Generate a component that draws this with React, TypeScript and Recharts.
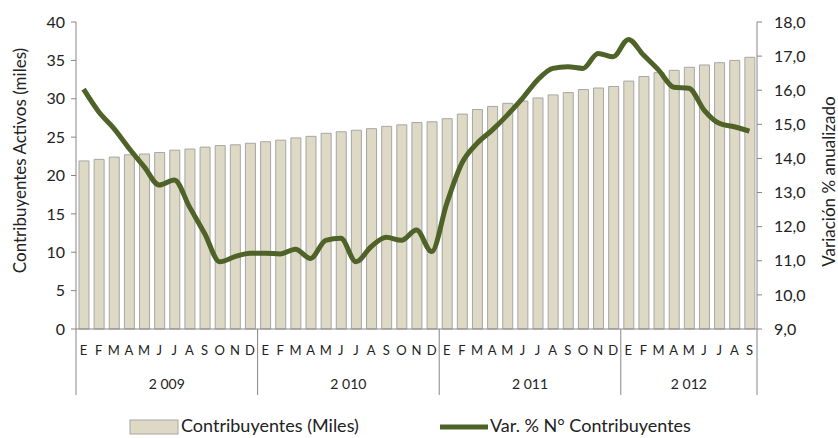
import { ComposedChart, Bar, Line, XAxis, YAxis, Legend } from 'recharts';

const years = ['2 009', '2 010', '2 011', '2 012'];
const monthsPerYear = [12, 12, 12, 9];
const monthLetters = ['E', 'F', 'M', 'A', 'M', 'J', 'J', 'A', 'S', 'O', 'N', 'D'];

// Contribuyentes activos (miles)
const contribuyentes = [
  21.9, 22.1, 22.4, 22.7, 22.8, 23.0, 23.3, 23.45, 23.7, 23.9, 24.0, 24.2,
  24.4, 24.6, 24.9, 25.1, 25.5, 25.7, 25.9, 26.1, 26.4, 26.6, 26.9, 27.0,
  27.4, 28.0, 28.6, 29.0, 29.4, 29.7, 30.1, 30.5, 30.8, 31.2, 31.4, 31.6,
  32.3, 32.9, 33.4, 33.7, 34.1, 34.4, 34.7, 35.0, 35.4,
];

// Var. % anualizada
const variacion = [
  16.03, 15.37, 14.88, 14.3, 13.76, 13.22, 13.37, 12.58, 11.8, 10.97, 11.12, 11.22,
  11.22, 11.2, 11.34, 11.07, 11.6, 11.66, 10.97, 11.41, 11.69, 11.6, 11.9, 11.27,
  12.68, 13.86, 14.44, 14.83, 15.27, 15.76, 16.3, 16.64, 16.69, 16.64, 17.08, 16.98,
  17.49, 17.03, 16.59, 16.09, 16.06, 15.42, 15.03, 14.93, 14.8,
];

const leftTicks = [0, 5, 10, 15, 20, 25, 30, 35, 40];
const rightTicks = [9, 10, 11, 12, 13, 14, 15, 16, 17, 18];

const data = contribuyentes.map((v, i) => ({
  key: `k${i}`,
  mes: monthLetters[i % 12],
  yearIdx: Math.floor(i / 12),
  contrib: v,
  var: variacion[i],
}));

const W = 838;
const H = 438;
const LEFT = 76;
const RIGHT_W = 81;
const TOP = 22;
const PLOT_BOTTOM = 329;
const BAND = (W - LEFT - RIGHT_W) / data.length;
const SEP_BOTTOM = 395;

const FONT = 'Lato, "Open Sans", sans-serif';
const AXIS = '#868686';
const BAR_FILL = '#DDD9C4';
const BAR_STROKE = '#A6A6A6';
const LINE = '#4F6228';

const YearTick = (props: any) => {
  const { x, payload } = props;
  const i = payload.index;
  const d = data[i];
  const m = i % 12;
  const parts: any[] = [];
  if (m === 0) {
    const left = x - BAND / 2;
    const count = monthsPerYear[d.yearIdx];
    parts.push(
      <line key="l" x1={left} x2={left} y1={PLOT_BOTTOM} y2={SEP_BOTTOM} stroke={AXIS} />
    );
    parts.push(
      <text key="t" x={left + (count * BAND) / 2} y={389} textAnchor="middle" fontSize={14} fill="#222" fontFamily={FONT}>
        {years[d.yearIdx]}
      </text>
    );
  }
  if (i === data.length - 1) {
    const right = x + BAND / 2;
    parts.push(
      <line key="r" x1={right} x2={right} y1={PLOT_BOTTOM} y2={SEP_BOTTOM} stroke={AXIS} />
    );
  }
  return <g>{parts}</g>;
};

const LegendContent = () => (
  <svg width={W} height={39} style={{ display: 'block', overflow: 'visible' }}>
    <rect x={130} y={21} width={48} height={14} fill={BAR_FILL} stroke={BAR_STROKE} />
    <text x={181} y={33} fontSize={18} fill="#222" fontFamily={FONT}>
      Contribuyentes (Miles)
    </text>
    <line x1={440} x2={488} y1={28} y2={28} stroke={LINE} strokeWidth={5} />
    <text x={490} y={33} fontSize={18} fill="#222" fontFamily={FONT}>
      Var. % N° Contribuyentes
    </text>
  </svg>
);

export default function App() {
  return (
    <div style={{ position: 'absolute', left: 0, top: 0, background: '#fff' }}>
      <ComposedChart
        width={W}
        height={H}
        data={data}
        margin={{ top: TOP, right: 0, bottom: 0, left: 0 }}
        barCategoryGap={0}
      >
        <XAxis
          xAxisId="mes"
          dataKey="key"
          interval={0}
          height={28}
          tickLine={false}
          axisLine={{ stroke: AXIS }}
          tickMargin={11}
          tickFormatter={(_: any, i: number) => data[i].mes}
          tick={{ fontSize: 13, fill: '#222', fontFamily: FONT }}
        />
        <XAxis
          xAxisId="year"
          dataKey="key"
          interval={0}
          height={42}
          tickLine={false}
          axisLine={false}
          tick={<YearTick />}
        />
        <YAxis
          yAxisId="left"
          width={LEFT}
          domain={[0, 40]}
          ticks={leftTicks}
          interval={0}
          axisLine={{ stroke: AXIS }}
          tickLine={{ stroke: AXIS }}
          tickSize={5}
          tickMargin={6}
          tick={{ fontSize: 16, fill: '#222', fontFamily: FONT }}
          label={{
            value: 'Contribuyentes Activos (miles)',
            angle: -90,
            position: 'center',
            dx: -18,
            dy: -15,
            style: { fontSize: 17, fill: '#222', fontFamily: FONT, textAnchor: 'middle' },
          }}
        />
        <YAxis
          yAxisId="right"
          orientation="right"
          width={RIGHT_W}
          domain={[9, 18]}
          ticks={rightTicks}
          interval={0}
          axisLine={{ stroke: AXIS }}
          tickLine={{ stroke: AXIS }}
          tickSize={5}
          tickMargin={12}
          tickFormatter={(v: number) => v.toFixed(1).replace('.', ',')}
          tick={{ fontSize: 16, fill: '#222', fontFamily: FONT }}
          label={{
            value: 'Variación % anualizado',
            angle: -90,
            position: 'center',
            dx: 31,
            dy: 6,
            style: { fontSize: 17, fill: '#222', fontFamily: FONT, textAnchor: 'middle' },
          }}
        />
        <Bar
          xAxisId="mes"
          yAxisId="left"
          dataKey="contrib"
          name="Contribuyentes (Miles)"
          barSize={10}
          fill={BAR_FILL}
          stroke={BAR_STROKE}
          strokeWidth={1}
          isAnimationActive={false}
        />
        <Line
          xAxisId="mes"
          yAxisId="right"
          dataKey="var"
          name="Var. % N° Contribuyentes"
          type="monotone"
          stroke={LINE}
          strokeWidth={5}
          dot={false}
          activeDot={false}
          isAnimationActive={false}
        />
        <Legend verticalAlign="bottom" content={<LegendContent />} wrapperStyle={{ height: 39 }} />
      </ComposedChart>
    </div>
  );
}
